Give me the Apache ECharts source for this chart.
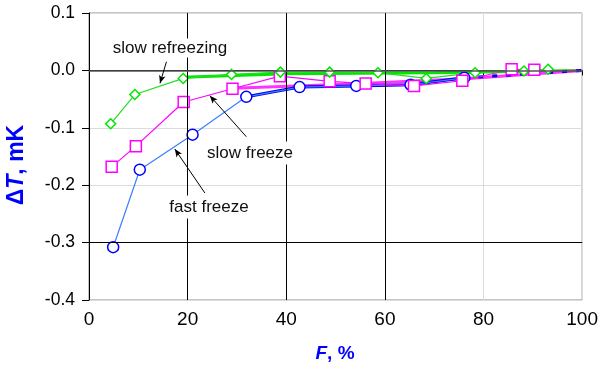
<!DOCTYPE html>
<html>
<head>
<meta charset="utf-8">
<script src="https://cdn.jsdelivr.net/npm/echarts@6/dist/echarts.min.js"></script>
<style>
  html, body { margin: 0; padding: 0; background: #fff; }
  #chart { width: 601px; height: 366px; }
</style>
</head>
<body>
<div id="chart"></div>
<script>
// measured points, F (%) vs dT (mK)
const fastX = [4.9, 10.3, 21.0, 31.9, 42.7, 54.2, 65.2, 76.1];
const fastY = [-0.308, -0.173, -0.112, -0.046, -0.029, -0.027, -0.025, -0.013];

const slowX = [4.6, 9.5, 19.2, 29.1, 38.7, 48.8, 56.1, 65.9, 75.7, 85.7, 90.3];
const slowY = [-0.168, -0.132, -0.055, -0.032, -0.010, -0.019, -0.023, -0.027, -0.018, 0.002, 0.001];

const refX = [4.4, 9.3, 19.1, 28.9, 38.8, 48.8, 58.6, 68.4, 78.3, 88.2, 93.1];
const refY = [-0.093, -0.042, -0.014, -0.007, -0.003, -0.003, -0.004, -0.014, -0.004, -0.001, 0.002];

// thick trend lines
const refFitX = [19.1, 40, 70, 100];
const refFitY = [-0.012, -0.006, -0.004, 0.0];
const slowFitX = [29.1, 52, 77, 100];
const slowFitY = [-0.031, -0.024, -0.014, 0.0];
const fastTailX = [76.1, 100];
const fastTailY = [-0.013, 0.0];

const xTicks = [0, 20, 40, 60, 80, 100];
const yTicks = [-0.4, -0.3, -0.2, -0.1, 0.0, 0.1];

const FONT = '"Liberation Sans", Arial, Helvetica, sans-serif';
const zip = (xs, ys) => xs.map((x, i) => [x, ys[i]]);

const chart = echarts.init(document.getElementById('chart'), null, { renderer: 'canvas' });

const thinLine = (name, xs, ys, color, lineColor, symbol, size, z) => ({
  name, type: 'line', data: zip(xs, ys), z,
  symbol, symbolSize: size, showAllSymbol: true,
  lineStyle: { color: lineColor, width: 1.2 },
  itemStyle: { color: '#fff', borderColor: color, borderWidth: 1.5 },
  emphasis: { disabled: true }, animation: false
});
const thickLine = (xs, ys, color, width, type, z) => ({
  type: 'line', data: zip(xs, ys), z, symbol: 'none',
  lineStyle: { color, width, type },
  emphasis: { disabled: true }, animation: false, silent: true
});

chart.setOption({
  backgroundColor: '#fff',
  animation: false,
  grid: { left: 89, right: 18, top: 13, bottom: 66, show: true, borderColor: '#8a8a8a', borderWidth: 1 },
  xAxis: {
    type: 'value', min: xTicks[0], max: xTicks[xTicks.length - 1], interval: 20,
    axisLine: { lineStyle: { color: '#000', width: 1 } },
    axisTick: { show: true, length: 5, lineStyle: { color: '#000' } },
    axisLabel: { color: '#000', fontSize: 19, fontFamily: FONT, margin: 10 },
    splitLine: { show: true, lineStyle: { color: '#dcdcdc', width: 1 } }
  },
  yAxis: {
    type: 'value', min: yTicks[0], max: yTicks[yTicks.length - 1], interval: 0.1,
    axisLine: { show: true, lineStyle: { color: '#000', width: 1 } },
    axisTick: { show: true, length: 7, lineStyle: { color: '#000' } },
    axisLabel: { color: '#000', fontSize: 17.5, fontFamily: FONT, margin: 14,
      formatter: v => v.toFixed(1) },
    splitLine: { show: true, lineStyle: { color: '#dcdcdc', width: 1 } }
  },
  series: [
    {
      // dark grid lines
      type: 'line', data: [], z: 1, silent: true,
      markLine: {
        silent: true, symbol: 'none', animation: false,
        label: { show: false },
        lineStyle: { color: '#000', width: 1, type: 'solid' },
        data: [
          { xAxis: 20 }, { xAxis: 40 }, { xAxis: 60 }, { yAxis: -0.3 },
          { yAxis: 0, lineStyle: { color: '#555', width: 1.6 } }
        ]
      }
    },
    thickLine(refFitX, refFitY, '#00e600', 3, 'solid', 2),
    thickLine(slowFitX, slowFitY, '#ff33ff', 3, 'solid', 2),
    thickLine(fastX.slice(3), fastY.slice(3), '#0000e6', 3, 'solid', 2),
    thickLine(fastTailX, fastTailY, '#0000e6', 3, [5, 9], 2),
    thinLine('fast freeze', fastX, fastY, '#0000ff', '#3d7dff', 'circle', 11, 3),
    thinLine('slow freeze', slowX, slowY, '#ff00ff', '#ff00ff', 'rect', 11, 3),
    thinLine('slow refreezing', refX, refY, '#00e600', '#22dd22', 'diamond', 10, 3),
    {
      // annotation arrows
      type: 'line', data: [], z: 4, silent: true,
      markLine: {
        silent: true, animation: false,
        symbol: ['none', 'arrow'], symbolSize: [5, 8],
        label: { show: false },
        lineStyle: { color: '#000', width: 1, type: 'solid' },
        data: [
          [{ coord: [15.7, 0.015] }, { coord: [14.4, -0.0225] }],
          [{ coord: [31.9, -0.1155] }, { coord: [24.5, -0.044] }],
          [{ coord: [23.5, -0.2136] }, { coord: [17.4, -0.137] }]
        ]
      }
    }
  ],
  graphic: [
    { type: 'text', x: 170, y: 48, z: 100, style: { text: 'slow refreezing', font: '17px ' + FONT, fill: '#111',
      align: 'center', verticalAlign: 'middle', backgroundColor: '#fff', padding: [1, 3] } },
    { type: 'text', x: 250, y: 153, z: 100, style: { text: 'slow freeze', font: '17px ' + FONT, fill: '#111',
      align: 'center', verticalAlign: 'middle', backgroundColor: '#fff', padding: [3, 4] } },
    { type: 'text', x: 209, y: 207, z: 100, style: { text: 'fast freeze', font: '17px ' + FONT, fill: '#111',
      align: 'center', verticalAlign: 'middle', backgroundColor: '#fff', padding: [3, 4] } },
    { type: 'text', x: 17, y: 165, rotation: Math.PI / 2, z: 100, style: {
      text: '{a|Δ}{b|T}{a|, mK}', align: 'center', verticalAlign: 'middle',
      rich: {
        a: { font: 'bold 23px ' + FONT, fill: '#0000ff' },
        b: { font: 'italic bold 23px ' + FONT, fill: '#0000ff' }
      } } },
    { type: 'text', x: 335, y: 354, z: 100, style: {
      text: '{b|F}{a|, %}', align: 'center', verticalAlign: 'middle',
      rich: {
        a: { font: 'bold 19px ' + FONT, fill: '#0000ff' },
        b: { font: 'italic bold 19px ' + FONT, fill: '#0000ff' }
      } } }
  ]
});
</script>
</body>
</html>
